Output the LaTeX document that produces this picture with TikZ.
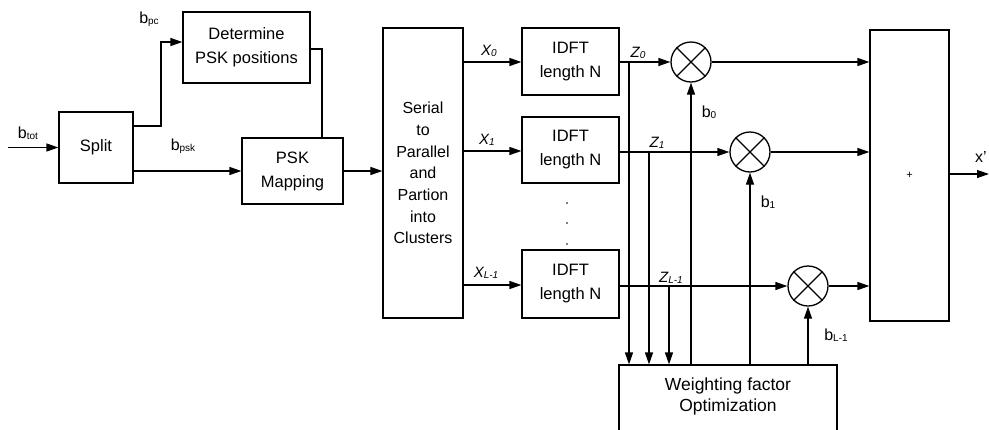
\documentclass[tikz,border=0pt]{standalone}
\usepackage{fontspec}
\setmainfont{Liberation Sans}
\usetikzlibrary{arrows.meta}
\tikzset{
 blk/.style={draw, line width=1.2pt, align=center, font=\fontsize{16.5}{24}\selectfont, inner sep=0pt},
 arr/.style={line width=1.3pt, -{Triangle[length=12pt,width=8pt]}},
 ln/.style={line width=1.3pt},
 mult/.style={draw, circle, line width=1.3pt, minimum size=40pt, inner sep=0pt},
 lab/.style={inner sep=0pt, font=\fontsize{16}{16}\selectfont},
 ilab/.style={inner sep=0pt, font=\fontsize{15}{15}\selectfont\itshape},
 crs/.style={line width=1.2pt},
}
\newcommand{\bsub}[2]{#1\raisebox{-1.5pt}{\fontsize{10}{10}\selectfont #2}}
\begin{document}
\begin{tikzpicture}[x=1pt,y=-1pt]
\useasboundingbox (0,0) rectangle (989,429);
% blocks
\node[blk, minimum width=74pt, minimum height=71pt] (split) at (96,147.5) {Split};
\node[blk, minimum width=127pt, minimum height=71pt] (det) at (246.5,47.5) {Determine\\PSK positions};
\node[blk, minimum width=101pt, minimum height=66pt] (psk) at (292.5,171) {PSK\\Mapping};
\node[blk, minimum width=80pt, minimum height=290pt, font=\fontsize{16}{21.7}\selectfont] (sp) at (423,173) {Serial\\to\\Parallel\\and\\Partion\\into\\Clusters};
\node[blk, minimum width=97pt, minimum height=67pt] (i0) at (570.5,61.5) {IDFT\\length N};
\node[blk, minimum width=97pt, minimum height=66pt] (i1) at (570.5,150) {IDFT\\length N};
\node[blk, minimum width=97pt, minimum height=68pt] (i2) at (570.5,284) {IDFT\\length N};
\node[blk, minimum width=79pt, minimum height=291pt, font=\fontsize{11}{11}\selectfont] (sum) at (909.5,175.5) {+};
\node[blk, minimum width=218pt, minimum height=72pt] (wf) at (728,401) {};
\node[lab, align=center, font=\fontsize{17.5}{21}\selectfont] (wft) at (728,396) {Weighting factor\\Optimization};
% multipliers
\node[mult] (m0) at (691,62) {};
\node[mult] (m1) at (750,152) {};
\node[mult] (m2) at (808,286) {};
\foreach \m in {m0,m1,m2}{
  \draw[crs] (\m.north west) -- (\m.south east);
  \draw[crs] (\m.north east) -- (\m.south west);
}
% input
\coordinate (in) at (8,147.5);
\draw[arr] (in) -- (split.west);
\draw[arr] (split.east |- 0,126) -- (161,126) -- (161,42) -- (det.west |- 0,42);
\draw[arr] (split.east |- 0,171) -- (psk.west);
\draw[ln] (det.east |- 0,49) -- (322,49) -- (psk.north -| 322,0);
\draw[arr] (psk.east) -- (sp.west |- psk.east);
% X lines
\draw[arr] (sp.east |- 0,62) -- (i0.west |- 0,62);
\draw[arr] (sp.east |- 0,151) -- (i1.west |- 0,151);
\draw[arr] (sp.east |- 0,285) -- (i2.west |- 0,285);
% Z lines
\draw[arr] (i0.east |- m0) -- (m0.west);
\draw[arr] (i1.east |- m1) -- (m1.west);
\draw[arr] (i2.east |- m2) -- (m2.west);
% taps
\draw[arr] (629,62) -- (wf.north -| 629,0);
\draw[arr] (649,152) -- (wf.north -| 649,0);
\draw[arr] (669,286) -- (wf.north -| 669,0);
% weights
\draw[arr] (wf.north -| m0) -- (m0.south);
\draw[arr] (wf.north -| m1) -- (m1.south);
\draw[arr] (wf.north -| m2) -- (m2.south);
% to sum
\draw[arr] (m0.east) -- (sum.west |- m0);
\draw[arr] (m1.east) -- (sum.west |- m1);
\draw[arr] (m2.east) -- (sum.west |- m2);
\coordinate (out) at (989,174);
\draw[arr] (sum.east |- out) -- (out);
% dots
\fill (567,203) circle (0.9pt);
\fill (567,223) circle (0.9pt);
\fill (567,244) circle (0.9pt);
% labels
\node[lab] (lbtot) at (28,133) {\bsub{b}{tot}};
\node[lab] (lbpc) at (149,19) {\bsub{b}{pc}};
\node[lab] (lbpsk) at (183,146) {\bsub{b}{psk}};
\node[ilab] (lx0) at (489,51) {\bsub{X}{0}};
\node[ilab] (lx1) at (487,140) {\bsub{X}{1}};
\node[ilab] (lxl) at (486,273) {\bsub{X}{L-1}};
\node[ilab] (lz0) at (638,53) {\bsub{Z}{0}};
\node[ilab] (lz1) at (657,143) {\bsub{Z}{1}};
\node[ilab] (lzl) at (671,278) {\bsub{Z}{L-1}};
\node[lab] (lb0) at (709,112) {\bsub{b}{0}};
\node[lab] (lb1) at (768,202) {\bsub{b}{1}};
\node[lab] (lbl) at (836,335) {\bsub{b}{L-1}};
\node[lab] (lxp) at (981,157) {x'};
\end{tikzpicture}
\end{document}
